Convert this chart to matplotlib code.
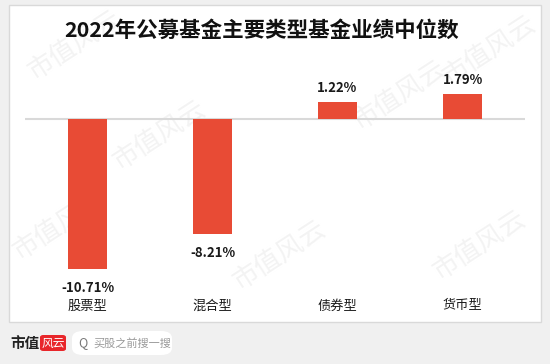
import matplotlib
matplotlib.use("Agg")
import matplotlib.pyplot as plt
from matplotlib.patches import Rectangle, FancyBboxPatch

plt.rcParams['font.family'] = ['Noto Sans CJK SC', 'DejaVu Sans']

categories = ["股票型", "混合型", "债券型", "货币型"]
values = [-10.71, -8.21, 1.22, 1.79]
labels = ["-10.71%", "-8.21%", "1.22%", "1.79%"]
title = "2022年公募基金主要类型基金业绩中位数"

W, H = 550, 364
fig = plt.figure(figsize=(W / 100, H / 100), dpi=100)
fig.patch.set_facecolor("#f0f0f0")


def px(x, y):
    # pixel coords (top-left origin) -> figure fraction
    return x / W, 1 - y / H


# white panel
x0, y0 = px(9, 322)
panel = Rectangle((x0, y0), 532 / W, 317 / H, transform=fig.transFigure,
                  facecolor="white", edgecolor="#d9d9d9", linewidth=1.0, zorder=-2)
fig.patches.append(panel)

# watermarks
for wx, wy in [(160, 135), (400, 95), (60, 225), (280, 255), (490, 50), (480, 245), (75, 45)]:
    fx, fy = px(wx, wy)
    fig.text(fx, fy, "市值风云", fontsize=19, color="#f3f3f3", rotation=33,
             ha="center", va="center", zorder=-1)

# axes: top at y=60px, bottom at y=290px, 14 px per percent, zero at 118.7
top_px, bot_px, zero_px, k = 60, 290, 118.7, 14.0
ax = fig.add_axes([25 / W, 1 - bot_px / H, 500 / W, (bot_px - top_px) / H])
ax.set_facecolor("none")
ymax = (zero_px - top_px) / k
ymin = ymax - (bot_px - top_px) / k
ax.set_ylim(ymin, ymax)
ax.set_xlim(-0.5, 3.5)

xs = range(len(categories))
ax.bar(xs, values, width=0.305, color="#e84b35", zorder=3)
ax.axhline(0, color="#d9d9d9", linewidth=1.5, zorder=2)

for x, v, lab in zip(xs, values, labels):
    if v < 0:
        ax.annotate(lab, (x, v), xytext=(0, -9), textcoords="offset points",
                    ha="center", va="top", fontsize=9.5, fontweight="bold", color="#1a1a1a")
    else:
        ax.annotate(lab, (x, v), xytext=(0, 5), textcoords="offset points",
                    ha="center", va="bottom", fontsize=9.5, fontweight="bold", color="#1a1a1a")

for x, c in zip(xs, categories):
    fx, fy = px(25 + 125 * x + 62.5, 306)
    fig.text(fx, fy, c, ha="center", va="center", fontsize=9.5, color="#1a1a1a")

for s in ax.spines.values():
    s.set_visible(False)
ax.set_xticks([])
ax.set_yticks([])

tx, ty = px(262, 30)
fig.text(tx, ty, title, ha="center", va="center", fontsize=15.5, fontweight="bold", color="#111111")

# footer logo
fx, fy = px(10, 343)
fig.text(fx, fy, "市值", ha="left", va="center", fontsize=10.5, fontweight="bold", color="#222222")
rx, ry = px(40, 351)
fig.patches.append(FancyBboxPatch((rx, ry), 26 / W, 16 / H, boxstyle="round,pad=0,rounding_size=0.006",
                                  transform=fig.transFigure, facecolor="#e8262a", edgecolor="none"))
fx, fy = px(53, 343)
fig.text(fx, fy, "风云", ha="center", va="center", fontsize=8.5, color="white", style="italic")
sx, sy = px(72, 355)
fig.patches.append(FancyBboxPatch((sx, sy), 100 / W, 24 / H, boxstyle="round,pad=0,rounding_size=0.02",
                                  transform=fig.transFigure, facecolor="white", edgecolor="none"))
fx, fy = px(83, 343)
fig.text(fx, fy, "Q", ha="center", va="center", fontsize=9, color="#777777")
fx, fy = px(93, 343)
fig.text(fx, fy, "买股之前搜一搜", ha="left", va="center", fontsize=8, color="#999999")

fig.savefig("out.png", dpi=100, facecolor=fig.get_facecolor())
